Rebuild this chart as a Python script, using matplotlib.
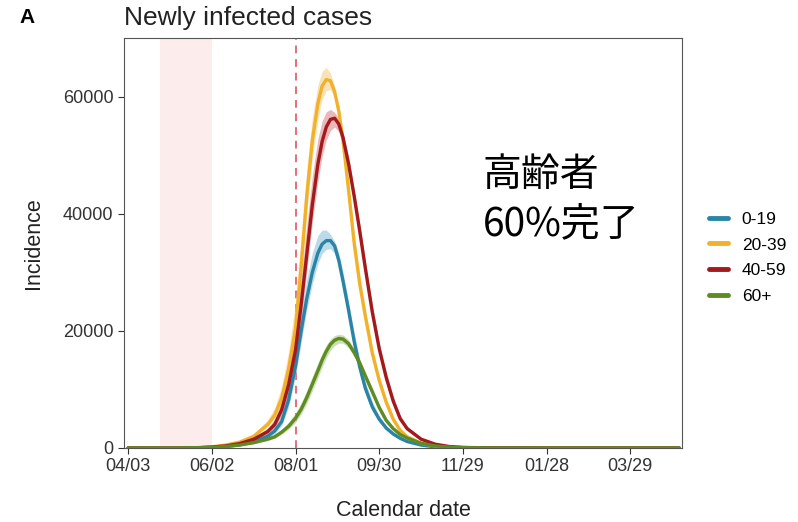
import numpy as np
import matplotlib
matplotlib.use("Agg")
import matplotlib.pyplot as plt

plt.rcParams["font.family"] = ["Liberation Sans", "DejaVu Sans"]

# days since 04/03
days = [0, 30, 50, 60, 70, 80, 90, 100, 105, 110, 115, 120, 124, 128, 132, 136, 139,
        142, 145, 148, 151, 154, 158, 162, 166, 170, 175, 180, 185, 190, 195, 200,
        210, 220, 230, 240, 260, 300, 395]

inc_0_19 = [0, 5, 30, 100, 250, 550, 1100, 2000, 2900, 4500, 8200, 14000, 20000, 25500,
            30000, 33300, 34800, 35400, 35400, 34500, 32000, 28500, 23500, 18200, 13800,
            10200, 7000, 4900, 3400, 2400, 1650, 1100, 500, 200, 80, 30, 5, 0, 0]
hi_0_19 = [0, 6, 40, 130, 320, 700, 1400, 2600, 3800, 6000, 10500, 17000, 23000, 28800,
           33300, 36300, 37200, 37200, 36500, 35300, 33300, 30000, 25000, 19700, 15100,
           11300, 7900, 5500, 3800, 2600, 1800, 1250, 580, 230, 90, 35, 6, 0, 0]
lo_0_19 = [0, 4, 25, 80, 200, 450, 900, 1700, 2400, 3800, 7000, 12300, 18000, 23500,
           28000, 31500, 33200, 33900, 34000, 33200, 30900, 27300, 22200, 17000, 12700,
           9300, 6300, 4400, 3000, 2100, 1450, 1000, 450, 180, 70, 25, 4, 0, 0]

inc_20_39 = [0, 10, 60, 200, 500, 1000, 2000, 4000, 5600, 8500, 13500, 20500, 31000, 43000,
             52500, 58800, 61800, 62900, 62700, 60800, 57500, 52500, 44000, 35000, 28000,
             22500, 16200, 11500, 7800, 4900, 3000, 1900, 800, 350, 150, 60, 15, 0, 0]
hi_20_39 = [0, 10, 70, 230, 580, 1200, 2400, 4800, 6800, 10500, 16500, 25000, 36000, 47500,
            56500, 62000, 64300, 65000, 64000, 61800, 58500, 53800, 45500, 36500, 29500,
            23800, 17200, 12300, 8400, 5400, 3400, 2200, 950, 420, 180, 70, 18, 0, 0]
lo_20_39 = [0, 10, 50, 180, 450, 900, 1800, 3600, 5000, 7600, 12000, 18800, 28500, 40000,
            49500, 56000, 59500, 61000, 61200, 59800, 56500, 51300, 42800, 33800, 27000,
            21600, 15400, 10800, 7200, 4500, 2700, 1700, 700, 300, 130, 50, 12, 0, 0]

inc_40_59 = [0, 5, 40, 150, 350, 750, 1500, 2800, 4000, 6500, 10800, 16800, 24500, 33000,
             41500, 48500, 52300, 54800, 56100, 56300, 55300, 53000, 48500, 43000, 37000,
             30700, 23200, 16900, 12000, 8000, 5000, 3300, 1500, 650, 250, 90, 15, 0, 0]
hi_40_59 = [0, 6, 50, 180, 420, 900, 1800, 3400, 4900, 8000, 13200, 20500, 29000, 38000,
            46500, 52800, 55800, 57400, 57800, 57300, 56200, 54000, 49700, 44300, 38400,
            32000, 24500, 18100, 13000, 8800, 5600, 3700, 1700, 750, 290, 100, 18, 0, 0]
lo_40_59 = [0, 4, 35, 130, 300, 650, 1300, 2400, 3500, 5600, 9300, 14800, 22000, 30000,
            38500, 45500, 49800, 52600, 54200, 54800, 54000, 51800, 47300, 41800, 35800,
            29500, 22000, 15900, 11200, 7400, 4600, 3000, 1350, 580, 220, 80, 12, 0, 0]

inc_60 = [0, 10, 50, 100, 250, 500, 900, 1500, 1900, 2700, 3700, 5100, 6600, 8600,
          10900, 13200, 15000, 16500, 17700, 18400, 18700, 18600, 17800, 16300, 14500,
          12300, 9600, 6900, 4700, 3300, 2300, 1700, 800, 350, 150, 60, 10, 0, 0]
hi_60 = [0, 12, 60, 120, 300, 600, 1050, 1750, 2250, 3200, 4400, 6000, 7700, 9800,
         12200, 14500, 16200, 17600, 18600, 19200, 19400, 19300, 18500, 17000, 15200,
         13000, 10200, 7400, 5100, 3600, 2500, 1850, 870, 380, 160, 65, 11, 0, 0]
lo_60 = [0, 8, 40, 85, 210, 420, 760, 1300, 1650, 2350, 3200, 4400, 5800, 7600,
         9800, 12000, 13800, 15400, 16700, 17500, 17900, 17900, 17100, 15600, 13800,
         11600, 9000, 6400, 4300, 3000, 2100, 1550, 730, 320, 140, 55, 9, 0, 0]

groups = ["0-19", "20-39", "40-59", "60+"]
colors = ["#2a84a6", "#f2b12a", "#a3191c", "#5e8c22"]
band_colors = ["#8fc3dc", "#f8cf8a", "#d9898e", "#a9c77f"]

tick_labels = ["04/03", "06/02", "08/01", "09/30", "11/29", "01/28", "03/29"]
shade_start, shade_end = 23, 60
vline_day = 120

fig = plt.figure(figsize=(7.98, 5.22), dpi=100)
ax = fig.add_axes([0.1554, 0.1418, 0.6992, 0.7854])

ax.axvspan(shade_start, shade_end, color="#fdecec", lw=0, zorder=0)
ax.axvline(vline_day, color="#e0707a", ls=(0, (4, 3)), lw=1.4, zorder=1)

series = [(inc_0_19, lo_0_19, hi_0_19), (inc_20_39, lo_20_39, hi_20_39),
          (inc_40_59, lo_40_59, hi_40_59), (inc_60, lo_60, hi_60)]
for (y, lo, hi), bc in zip(series, band_colors):
    ax.fill_between(days, lo, hi, color=bc, alpha=0.6, lw=0, zorder=2)
for (y, lo, hi), lab, c in zip(series, groups, colors):
    ax.plot(days, y, color=c, lw=2.4, label=lab, zorder=3, solid_capstyle="round")

ax.set_xlim(-3, 397)
ax.set_ylim(0, 70000)
ax.set_xticks(np.arange(0, 361, 60))
ax.set_xticklabels(tick_labels)
ax.set_yticks([0, 20000, 40000, 60000])
ax.tick_params(labelsize=13, colors="#333333", length=4, width=0.8)
for s in ax.spines.values():
    s.set_color("#555555")
    s.set_linewidth(0.8)

ax.set_xlabel("Calendar date", fontsize=15.5, labelpad=18, color="#222222")
ax.set_ylabel("Incidence", fontsize=15.5, labelpad=14, color="#222222")

fig.text(0.155, 0.966, "Newly infected cases", fontsize=19, color="#222222",
         va="center", ha="left")
fig.text(0.025, 0.966, "A", fontsize=15, fontweight="bold", va="center", ha="left")

fig.text(0.605, 0.617, "高齢者\n60%完了", fontsize=28, family=["Noto Sans CJK JP", "DejaVu Sans"],
         va="center", ha="left", linespacing=1.3)

leg = ax.legend(loc="center left", bbox_to_anchor=(1.02, 0.464), frameon=False,
                fontsize=12.5, handlelength=1.1, handletextpad=0.8, labelspacing=0.6)
for h in leg.get_lines():
    h.set_linewidth(3.5)

fig.savefig("out.png", dpi=100)
